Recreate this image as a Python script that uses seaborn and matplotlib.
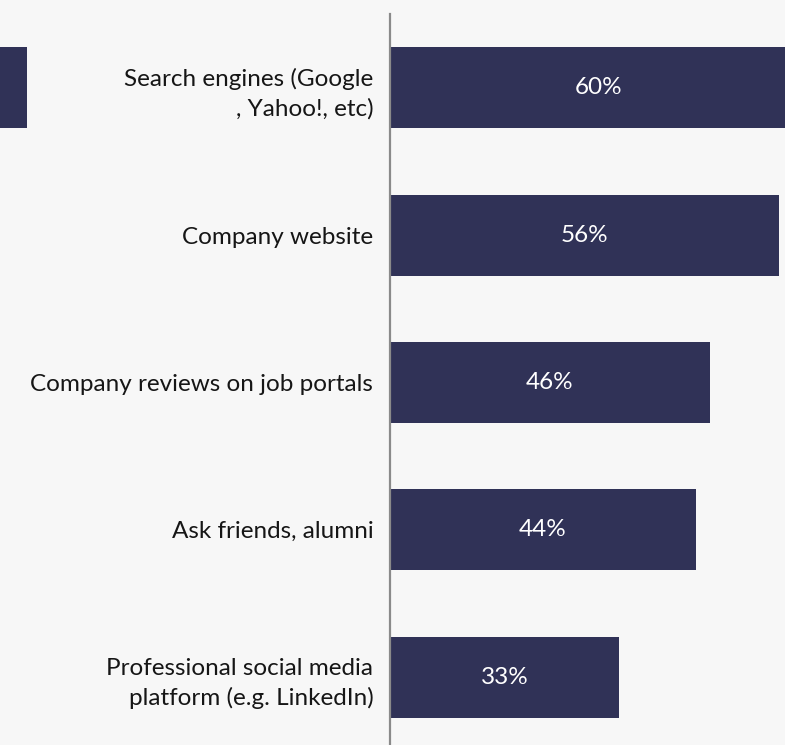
import matplotlib
matplotlib.use("Agg")
import matplotlib.pyplot as plt
import matplotlib.transforms as mtransforms
from matplotlib.patches import Rectangle
import seaborn as sns
import pandas as pd

# Sources used to research a company
categories = [
    "Search engines (Google\n, Yahoo!, etc)",
    "Company website",
    "Company reviews on job portals",
    "Ask friends, alumni",
    "Professional social media\nplatform (e.g. LinkedIn)",
]
shares = [60, 56, 46, 44, 33]

BAR = "#303257"
BG = "#f7f7f7"

sns.set_theme(style="white")
plt.rcParams["font.family"] = ["Lato", "DejaVu Sans"]

df = pd.DataFrame({"source": categories, "share": shares})

fig = plt.figure(figsize=(7.85, 7.45), dpi=100, facecolor=BG)
ax = fig.add_axes([390 / 785, 0.0, 1 - 390 / 785, 1 - 14 / 745])
ax.set_facecolor(BG)

sns.barplot(data=df, x="share", y="source", orient="h", color=BAR,
            saturation=1, width=0.55, ax=ax, edgecolor="none")

ax.set_xlim(0, 56.85)
ax.set_ylim(4.46, -0.5)
ax.set_xlabel("")
ax.set_ylabel("")
ax.set_xticks([])
for s in ["top", "right", "bottom"]:
    ax.spines[s].set_visible(False)
ax.spines["left"].set_color("#8a8a8a")
ax.spines["left"].set_linewidth(1.6)

ax.tick_params(axis="y", length=0, pad=12)
ax.set_yticks(range(len(categories)))
ax.set_yticklabels(categories, fontsize=17.5, color="#161616",
                   ha="right", multialignment="right", linespacing=1.45)

# value labels centred in each bar
for i, v in enumerate(shares):
    ax.text(v / 2, i, f"{v}%", ha="center", va="center",
            color="white", fontsize=17.5, clip_on=False)

# partial legend swatch at the left edge, level with the first bar
trans = mtransforms.blended_transform_factory(fig.transFigure, ax.transData)
fig.patches.append(Rectangle((-0.01, -0.275), 0.01 + 27 / 785, 0.55,
                             transform=trans, facecolor=BAR, edgecolor="none"))

fig.savefig("out.png", dpi=100, facecolor=BG)
